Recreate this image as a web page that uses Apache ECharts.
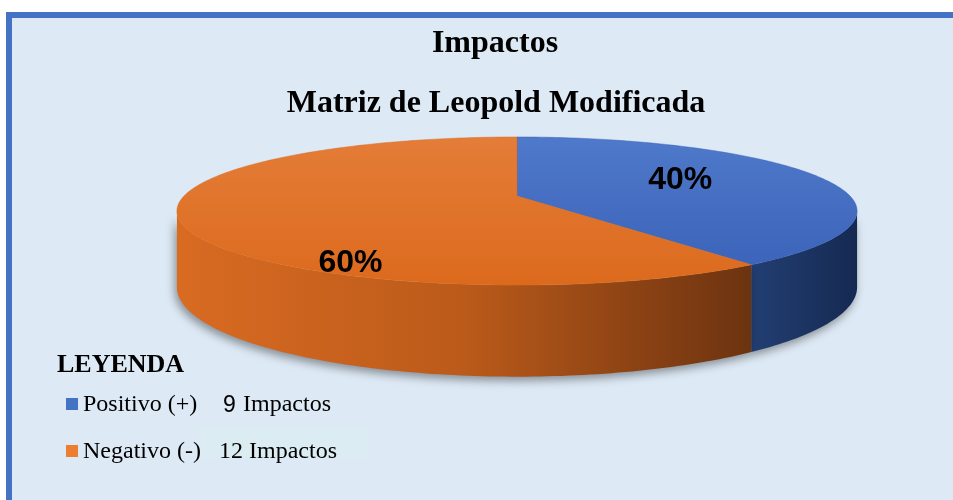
<!DOCTYPE html>
<html><head><meta charset="utf-8">
<script src="https://cdn.jsdelivr.net/npm/echarts@6/dist/echarts.min.js"></script>
<style>html,body{margin:0;padding:0;background:#fff}#c{width:953px;height:500px}</style>
</head><body><div id="c"></div>
<script>
// ---- data ----
const categories = ['Positivo (+)', 'Negativo (-)'];
const shares = [40, 60];               // pie shares (%)
const shareLabels = ['40%', '60%'];
const impactCounts = [9, 12];
const countWord = 'Impactos';
const titleLines = ['Impactos', 'Matriz de Leopold Modificada'];
const legendTitle = 'LEYENDA';

// ---- style / layout ----
// perspective-projected disc: X = cx + R*u/w, Y = cy - B*v/w, w = 1 + a*v
const P = { cx: 517, cy: 196, R: 333, B: 71, a: 0.203, D: 73 };
const topColors = [
  ['#4f79ca', '#3961b8'],
  ['#e47d38', '#dc6a1d']
];
const sideColors = [
  ['#223e72', '#152a52'],
  ['#d96b22', '#bb5a1a', '#6c3310']
];
const labelOffsets = [[0.49, -0.225], [-0.50, 0.944]];

const total = shares.reduce((a, b) => a + b, 0);
const cum = [];
shares.reduce((acc, v, i) => { cum[i] = acc; return acc + v; }, 0);
const seriesData = shares.map((v, i) => ({ name: categories[i], value: [cum[i], v] }));

function pt(ang, bottom) {
  const r = ang * Math.PI / 180;
  const u = Math.cos(r), v = Math.sin(r);
  const w = 1 + P.a * v;
  return [P.cx + P.R * u / w, P.cy - P.B * v / w + (bottom ? P.D / w : 0)];
}
function arcPts(a1, a2, bottom) { // a1 > a2, clockwise
  const pts = [];
  const n = Math.max(2, Math.ceil(a1 - a2));
  for (let k = 0; k <= n; k++) pts.push(pt(a1 + (a2 - a1) * k / n, bottom));
  return pts;
}
function sliceAngles(api) {
  const s = api.value(0), v = api.value(1);
  const a1 = 90 - 360 * s / total;
  return [a1, a1 - 360 * v / total];
}

function renderTop(params, api) {
  const i = params.dataIndex;
  const [a1, a2] = sliceAngles(api);
  const pts = [[P.cx, P.cy]].concat(arcPts(a1, a2, false));
  const lo = labelOffsets[i];
  return {
    type: 'group',
    children: [
      {
        type: 'polygon',
        shape: { points: pts },
        style: {
          fill: new echarts.graphic.LinearGradient(0, 137, 0, 285, [
            { offset: 0, color: topColors[i][0] }, { offset: 1, color: topColors[i][1] }
          ], true),
          stroke: topColors[i][1], lineWidth: 0.5
        }
      },
      {
        type: 'text',
        x: P.cx + lo[0] * P.R, y: P.cy + lo[1] * P.B,
        style: {
          text: shareLabels[i], fill: '#000',
          font: 'bold 32px "Liberation Sans", Arial, sans-serif',
          align: 'center', verticalAlign: 'middle'
        }
      }
    ]
  };
}

// silhouette angle of the projected rim (vertical tangent)
const silh = Math.asin(P.a) * 180 / Math.PI;
function renderSide(params, api) {
  const i = params.dataIndex;
  const [a1, a2] = sliceAngles(api);
  const children = [];
  for (let k = -2; k <= 1; k++) {
    const f1 = -silh + k * 360, f2 = -180 + silh + k * 360;
    const hi = Math.min(a1, f1), lo = Math.max(a2, f2);
    if (hi > lo) {
      const top = arcPts(hi, lo, false);
      const bot = arcPts(hi, lo, true).reverse();
      const xs = top.map(p => p[0]);
      const xmin = Math.min.apply(null, xs), xmax = Math.max.apply(null, xs);
      const cs = sideColors[i];
      const stops = cs.map((c, j) => ({ offset: j / (cs.length - 1), color: c }));
      children.push({
        type: 'polygon',
        shape: { points: top.concat(bot) },
        style: {
          fill: new echarts.graphic.LinearGradient(xmin, 0, xmax, 0, stops, true),
          shadowBlur: 10, shadowOffsetY: 4, shadowOffsetX: -2, shadowColor: 'rgba(0,0,0,0.4)'
        }
      });
    }
  }
  return { type: 'group', children };
}

const serif = '"Liberation Serif", "Times New Roman", serif';
const legendColors = ['#4472c4', '#ed7d31'];
const legendGraphics = [
  { type: 'text', x: 57, y: 352, style: { text: legendTitle, fill: '#000', font: 'bold 26px ' + serif, verticalAlign: 'top' } }
];
categories.forEach((c, i) => {
  const by = 412 + i * 47;
  legendGraphics.push({ type: 'rect', shape: { x: 66, y: by - 14, width: 12, height: 12 }, style: { fill: legendColors[i] } });
  legendGraphics.push({ type: 'text', x: 83, y: by - 19, style: { text: c, fill: '#000', font: '24px ' + serif, verticalAlign: 'top' } });
});
const countGraphics = [
  { type: 'rect', shape: { x: 199, y: 427, width: 169, height: 31 }, style: { fill: '#dbedf3' } },
  { type: 'text', x: 223, y: 394, style: { text: String(impactCounts[0]), fill: '#000', font: '23px "Liberation Sans", Arial, sans-serif', verticalAlign: 'top' } },
  { type: 'text', x: 243, y: 393, style: { text: countWord, fill: '#000', font: '24px ' + serif, verticalAlign: 'top' } },
  { type: 'text', x: 219, y: 440, style: { text: impactCounts[1] + ' ' + countWord, fill: '#000', font: '24px ' + serif, verticalAlign: 'top' } }
];

const chart = echarts.init(document.getElementById('c'), null, { renderer: 'canvas' });
chart.setOption({
  backgroundColor: '#ffffff',
  animation: false,
  graphic: [
    { type: 'rect', z: -10, shape: { x: 9, y: 15, width: 960, height: 500 }, style: { fill: '#dde9f5', stroke: '#4472c4', lineWidth: 6 } },
    { type: 'text', x: 495, y: 28, style: { text: titleLines[0], fill: '#000', font: 'bold 32px ' + serif, align: 'center', verticalAlign: 'top' } },
    { type: 'text', x: 496, y: 88, style: { text: titleLines[1], fill: '#000', font: 'bold 32px ' + serif, align: 'center', verticalAlign: 'top' } }
  ].concat(countGraphics, legendGraphics),
  series: [
    { type: 'custom', name: 'side', coordinateSystem: 'none', renderItem: renderSide, data: seriesData, z: 2, silent: true },
    { type: 'custom', name: 'top', coordinateSystem: 'none', renderItem: renderTop, data: seriesData, z: 3, silent: true }
  ]
});
</script></body></html>
